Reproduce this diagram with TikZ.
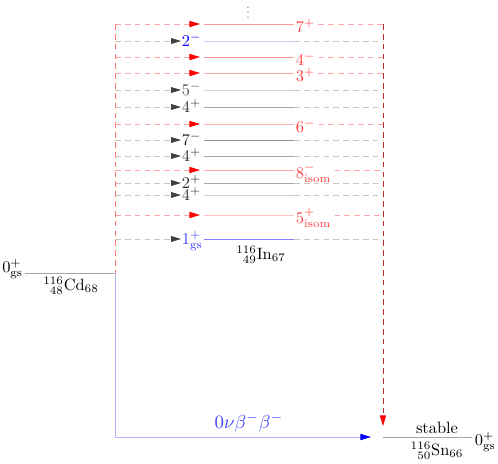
\documentclass[tikz,border=0pt]{standalone}
\usetikzlibrary{arrows.meta}
\definecolor{darkred}{RGB}{185,45,45}
\begin{document}
\begin{tikzpicture}[x=0.61pt,y=-0.61pt,
  every node/.style={inner sep=0pt,outer sep=0pt},
  dashred/.style={red!35,line width=0.5pt,dash pattern=on 3.5pt off 2.5pt},
  dashgray/.style={gray!45,line width=0.5pt,dash pattern=on 3.5pt off 2.5pt},
  redtip/.style={-{Triangle[length=6.5pt,width=3.8pt,color=red]}},
  graytip/.style={-{Triangle[length=6pt,width=3.5pt,color=black!75]}},
  lvl/.style={line width=0.5pt},
  redlab/.style={anchor=base west,text=red!75},
  blklab/.style={anchor=base west},
]
\useasboundingbox (0,0) rectangle (498,463);

% dots at top
\node[text=black!60,scale=0.75] (dots) at (248,9) {$\vdots$};

% red (arrow-to-right-label) levels
\foreach \y/\lab/\lc/\nm in {24/{7^{+}}/red!40/a,57/{4^{-}}/red!40/b,73/{3^{+}}/red!35/c,124/{6^{-}}/red!30/d,170/{8^{-}_{\mathrm{isom}}}/red!35/e,215/{5^{+}_{\mathrm{isom}}}/red!25/f}{
  \coordinate (rL\nm) at (115,\y);
  \coordinate (rA\nm) at (200,\y);
  \coordinate (rS\nm) at (204,\y);
  \coordinate (rE\nm) at (294,\y);
  \coordinate (rR\nm) at (383,\y);
  \node[redlab] (rT\nm) at (296,{\y+8}) {$\lab$};
  \draw[dashred,redtip] (rL\nm) -- (rA\nm);
  \draw[lvl,\lc] (rS\nm) -- (rE\nm);
  \draw[dashred] ([xshift=2pt]rT\nm.east |- rR\nm) -- (rR\nm);
}

% black/blue (label-at-arrow) levels
\foreach \y/\lab/\lc/\tc/\nm in {41/{2^{-}}/blue!20/blue/g,90/{5^{-}}/gray!35/black!70/h,107/{4^{+}}/gray!70/black!80/i,140/{7^{-}}/gray!85/black!85/j,156/{4^{+}}/gray!70/black!80/k,183/{2^{+}}/gray!70/black!85/l,195/{4^{+}}/gray!35/black!80/m,239/{1^{+}_{\mathrm{gs}}}/blue!50/blue!75/n}{
  \coordinate (bL\nm) at (115,\y);
  \coordinate (bA\nm) at (181,\y);
  \coordinate (bS\nm) at (204,\y);
  \coordinate (bE\nm) at (294,\y);
  \coordinate (bR\nm) at (383,\y);
  \node[blklab,text=\tc] (bT\nm) at (182,{\y+5.5}) {$\lab$};
  \draw[dashgray,graytip] (bL\nm) -- (bA\nm);
  \draw[lvl,\lc] (bS\nm) -- (bE\nm);
  \draw[dashgray] (bE\nm) -- (bR\nm);
}

\node[anchor=base] (In) at (261,259) {${}^{116}_{\phantom{1}49}\mathrm{In}_{67}$};

% Cd level
\coordinate (cdL) at (25,273);
\coordinate (cdR) at (115,273);
\draw[lvl,gray!70] (cdL) -- (cdR);
\node[anchor=base east] (cdS) at (23,272) {$0^{+}_{\mathrm{gs}}$};
\node[anchor=base] (cdN) at (71,290) {${}^{116}_{\phantom{1}48}\mathrm{Cd}_{68}$};

% left red dashed vertical
\draw[red!55,line width=0.5pt,dash pattern=on 3.5pt off 2.5pt] (rLa) -- (cdR);

% Sn level
\coordinate (snL) at (383,437);
\coordinate (snR) at (472,437);
\coordinate (snT) at (383,426);
\draw[lvl,gray!70] (snL) -- (snR);
\node[anchor=base] (snStable) at (437,433) {stable};
\node[anchor=base] (snN) at (437,455) {${}^{116}_{\phantom{1}50}\mathrm{Sn}_{66}$};
\node[anchor=base west] (snS) at (475,445) {$0^{+}_{\mathrm{gs}}$};

% right dark red dashed vertical with arrow
\draw[darkred,line width=0.5pt,dash pattern=on 3.5pt off 2.5pt,redtip] (rRa) -- (snT);

% double beta decay path
\coordinate (bbC) at (115,437);
\coordinate (bbE) at (371,437);
\draw[blue!30,line width=0.6pt,-{Triangle[length=6.5pt,width=3.8pt,color=blue]}] (cdR) -- (bbC) -- (bbE);
\node[anchor=base,text=blue!75,scale=1.15] (bbLab) at (249,428) {$0\nu\beta^{-}\beta^{-}$};
\end{tikzpicture}
\end{document}
